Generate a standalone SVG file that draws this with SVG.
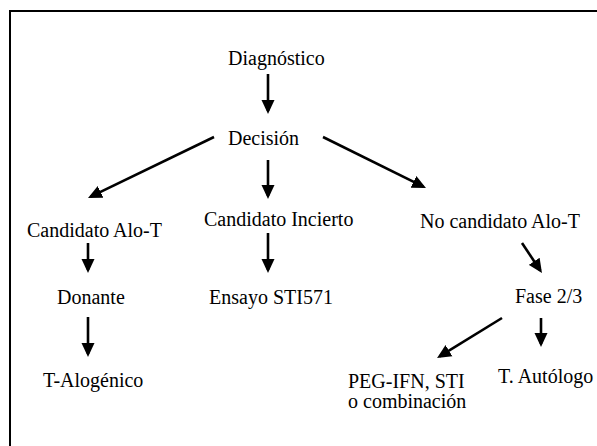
<svg xmlns="http://www.w3.org/2000/svg" width="597" height="446" viewBox="0 0 597 446">
<style>
  .edge { stroke: #000; stroke-width: 2.6; fill: none; marker-end: url(#ah); }
  .frame { stroke: #000; stroke-width: 2; fill: none; }
</style>
<defs>
  <marker id="ah" markerUnits="userSpaceOnUse" markerWidth="14" markerHeight="14" viewBox="0 0 14 14" refX="11" refY="7" orient="auto">
    <path d="M0,0.5 L14,7 L0,13.5 Z" fill="#000"/>
  </marker>
</defs>
<rect width="597" height="446" fill="#fff"/>
<path class="frame" d="M10,446 V11 H597"/>

<g id="connectors">
  <line class="edge" x1="268" y1="74" x2="268" y2="111"/>
  <line class="edge" x1="268" y1="160" x2="268" y2="196"/>
  <line class="edge" x1="214" y1="137" x2="90.7" y2="196.7"/>
  <line class="edge" x1="323" y1="137" x2="423.3" y2="186.7"/>
  <line class="edge" x1="88" y1="243" x2="88" y2="270"/>
  <line class="edge" x1="88" y1="317" x2="88" y2="354"/>
  <line class="edge" x1="268" y1="233" x2="268" y2="270"/>
  <line class="edge" x1="522" y1="243" x2="540.3" y2="270.5"/>
  <line class="edge" x1="502" y1="318" x2="439.6" y2="356.4"/>
  <line class="edge" x1="541" y1="318" x2="541" y2="344"/>
</g>

<g font-family="Liberation Serif" font-size="20" fill="#000">
<g id="diagnostico"><text x="228" y="65">Diagnóstico</text></g>
<g id="decision"><text x="228" y="145">Decisión</text></g>
<g id="candidato-alo"><text x="27" y="237">Candidato Alo-T</text></g>
<g id="candidato-incierto"><text x="204" y="226">Candidato Incierto</text></g>
<g id="no-candidato"><text x="420" y="228">No candidato Alo-T</text></g>
<g id="donante"><text x="57" y="304">Donante</text></g>
<g id="ensayo"><text x="209" y="304">Ensayo STI571</text></g>
<g id="fase"><text x="515" y="303">Fase 2/3</text></g>
<g id="t-alogenico"><text x="43" y="387">T-Alogénico</text></g>
<g id="peg-ifn"><text x="348" y="388">PEG-IFN, STI</text><text x="348" y="408">o combinación</text></g>
<g id="t-autologo"><text x="498" y="383">T. Autólogo</text></g>
</g>
</svg>
